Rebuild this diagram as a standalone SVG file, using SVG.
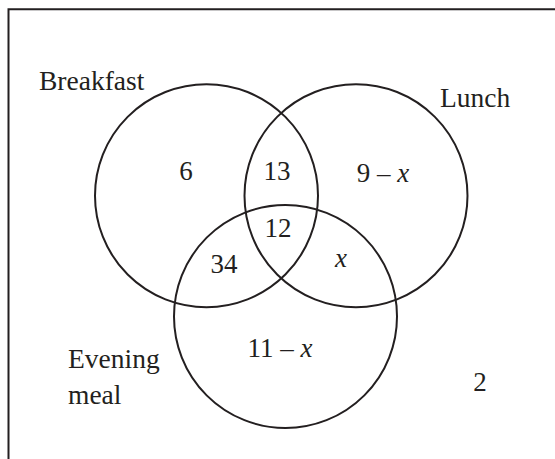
<svg xmlns="http://www.w3.org/2000/svg" width="555" height="459" viewBox="0 0 555 459">
<style>
.c{fill:none;stroke:#231f20;stroke-width:2}
.t{font-family:"Liberation Serif","Times New Roman",serif;font-size:27.5px;fill:#231f20}
.n{font-family:"Liberation Serif","Times New Roman",serif;font-size:27px;fill:#231f20;text-anchor:middle}
.i{font-style:italic}
</style>
<rect x="0" y="0" width="555" height="459" fill="#fff"/>
<path d="M8.5 470 V9.3 H570" fill="none" stroke="#231f20" stroke-width="2"/>
<g id="breakfast">
<circle class="c" cx="206.5" cy="195.7" r="111.5"/>
<text class="t" x="39" y="89.5">Breakfast</text>
</g>
<g id="lunch">
<circle class="c" cx="356" cy="195.7" r="111.5"/>
<text class="t" x="440" y="107">Lunch</text>
</g>
<g id="evening">
<circle class="c" cx="285.5" cy="316.5" r="111.5"/>
<text class="t" x="68" y="368">Evening</text>
<text class="t" x="68" y="404">meal</text>
</g>
<g id="regions">
<text class="n" x="186" y="180">6</text>
<text class="n" x="277" y="180">13</text>
<text class="n" x="383" y="181.5">9 – <tspan class="i">x</tspan></text>
<text class="n" x="278" y="237">12</text>
<text class="n" x="224" y="272.5">34</text>
<text class="n i" x="341" y="266.5">x</text>
<text class="n" x="280" y="357">11 – <tspan class="i">x</tspan></text>
<text class="n" x="480" y="391">2</text>
</g>
</svg>
